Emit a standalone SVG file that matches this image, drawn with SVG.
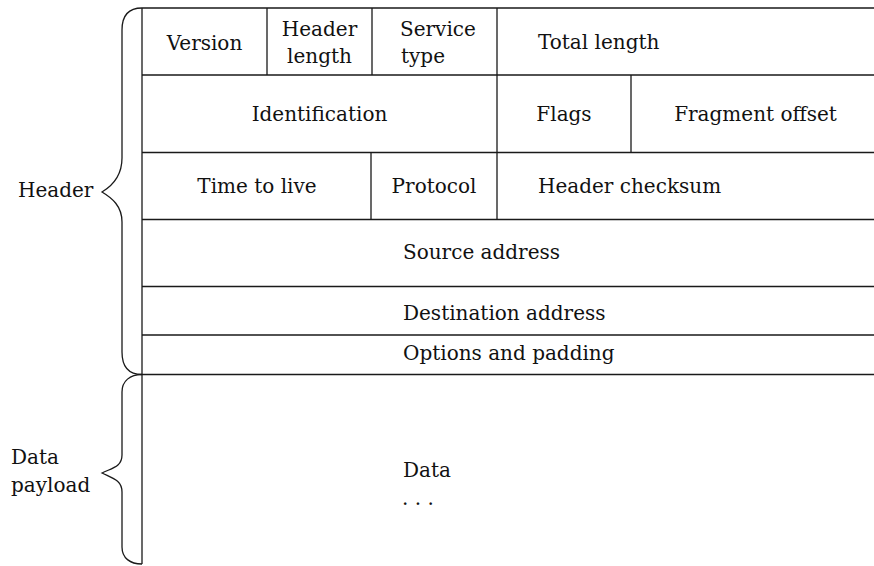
<svg xmlns="http://www.w3.org/2000/svg" width="874" height="566" viewBox="0 0 874 566">
<style>
.ln{stroke:#1a1a1a;stroke-width:1.3;fill:none}
.br{stroke:#1a1a1a;stroke-width:1.3;fill:none}
text{font-family:"DejaVu Serif","Liberation Serif",serif;font-size:20px;fill:#111}
.c{text-anchor:middle}
</style>
<rect width="874" height="566" fill="#fff"/>
<g id="grid">
<path class="ln" d="M142,8 H874 M142,75 H874 M142,152.5 H874 M142,219.5 H874 M142,286.5 H874 M142,335 H874 M142,374.5 H874"/>
<path class="ln" d="M142,8 V564 M267,8 V75 M372,8 V75 M371,152.5 V219.5 M497,8 V219.5 M631,75 V152.5"/>
</g>
<g id="version"><text class="c" x="204.5" y="50">Version</text></g>
<g id="header-length"><text class="c" x="319.5" y="36">Header</text><text class="c" x="319.5" y="63">length</text></g>
<g id="service-type"><text x="400" y="36">Service</text><text x="401" y="63">type</text></g>
<g id="total-length"><text x="538" y="49">Total length</text></g>
<g id="identification"><text class="c" x="319.5" y="121">Identification</text></g>
<g id="flags"><text class="c" x="564" y="121">Flags</text></g>
<g id="fragment-offset"><text class="c" x="755.5" y="121">Fragment offset</text></g>
<g id="ttl"><text class="c" x="257" y="193">Time to live</text></g>
<g id="protocol"><text class="c" x="434" y="193">Protocol</text></g>
<g id="header-checksum"><text x="538" y="193">Header checksum</text></g>
<g id="source-address"><text x="403" y="259">Source address</text></g>
<g id="destination-address"><text x="403" y="320">Destination address</text></g>
<g id="options"><text x="403" y="360">Options and padding</text></g>
<g id="data"><text x="403" y="477">Data</text><text x="402" y="505">. . .</text></g>
<g id="header-brace">
<path class="br" d="M142,8 C130,8 122,14 122,30 L122,158 C122,176 112,186 102,192 C112,198 122,206 122,222 L122,352 C122,368 130,374.5 142,374.5"/>
<text x="18" y="197">Header</text>
</g>
<g id="payload-brace">
<path class="br" d="M142,374.5 C130,374.5 122,381 122,392 L122,455 C122,467 112,468 102,473 C112,478 122,480 122,492 L122,547 C122,558 130,564 142,564"/>
<text x="11" y="464">Data</text>
<text x="11" y="492">payload</text>
</g>
</svg>
